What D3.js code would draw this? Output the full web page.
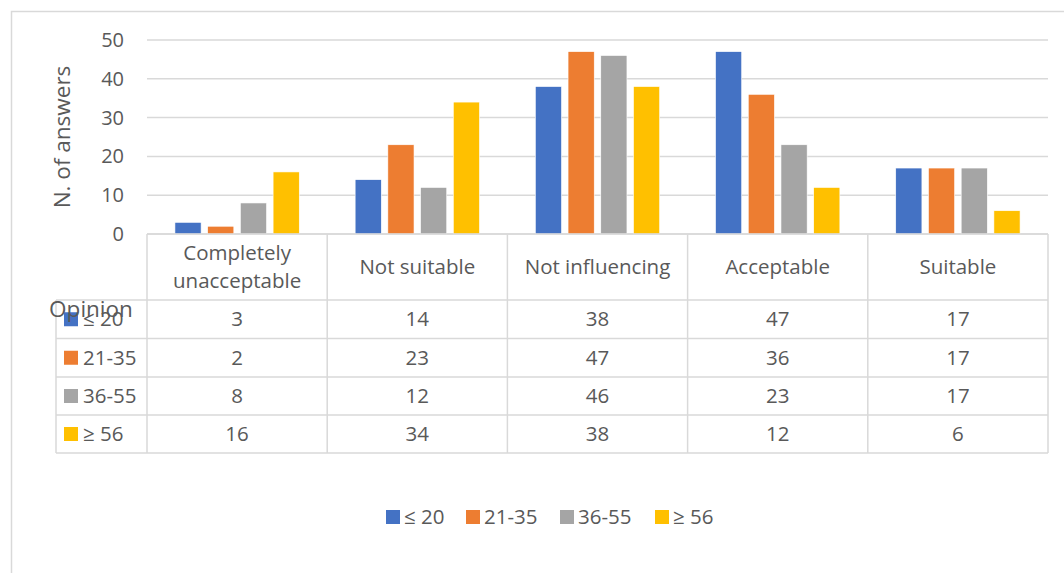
<!DOCTYPE html>
<html>
<head>
<meta charset="utf-8">
<script src="https://cdn.jsdelivr.net/npm/d3@7"></script>
<style>
  html, body { margin: 0; padding: 0; background: #fff; }
  svg { display: block; font-family: "Open Sans", Lato, sans-serif; }
</style>
</head>
<body>
<svg id="chart" width="1064" height="573"></svg>
<script>
// Opinion categories (x axis / table columns)
const categories = ["Completely unacceptable", "Not suitable", "Not influencing", "Acceptable", "Suitable"];
// Age groups (series / table rows)
const seriesNames = ["≤ 20", "21-35", "36-55", "≥ 56"];
const seriesColors = ["#4472C4", "#ED7D31", "#A5A5A5", "#FFC000"];
// Number of answers per age group, one value per category
const valuesLe20 = [3, 14, 38, 47, 17];
const values21to35 = [2, 23, 47, 36, 17];
const values36to55 = [8, 12, 46, 23, 17];
const valuesGe56 = [16, 34, 38, 12, 6];
const yTicks = [0, 10, 20, 30, 40, 50];

const seriesValues = [valuesLe20, values21to35, values36to55, valuesGe56];

const svg = d3.select("#chart");
const textColor = "#595959";
const lineColor = "#D9D9D9";
const fontSize = 20.5;
const titleSize = 22.5;

// chart frame
svg.append("path")
  .attr("d", "M11.5,573 V11.5 H1064")
  .attr("fill", "none").attr("stroke", lineColor).attr("stroke-width", 1.5);

const plotLeft = 147, plotRight = 1048, plotTop = 40, plotBottom = 234;
const tableLeft = 56;
const rowEdges = [234, 300, 338.5, 377, 415, 453];

const x0 = d3.scaleBand().domain(categories).range([plotLeft, plotRight]).padding(0);
const bw = x0.bandwidth();
const x1 = d3.scaleBand().domain(seriesNames)
  .range([bw * 0.155, bw * 0.845]).paddingInner(0.2).paddingOuter(0);
const y = d3.scaleLinear().domain([0, 50]).range([plotBottom, plotTop]);

// gridlines
svg.append("g").selectAll("line").data(yTicks).join("line")
  .attr("x1", plotLeft).attr("x2", plotRight)
  .attr("y1", d => y(d)).attr("y2", d => y(d))
  .attr("stroke", lineColor).attr("stroke-width", 1.5);

// y axis labels
const yAxis = d3.axisLeft(y).tickValues(yTicks).tickSize(0).tickPadding(0);
const yg = svg.append("g").attr("transform", `translate(124,0)`).call(yAxis);
yg.select(".domain").remove();
yg.selectAll("text").attr("fill", textColor).attr("font-size", 20)
  .attr("font-family", "'Open Sans', sans-serif");

// y axis title
svg.append("text")
  .attr("transform", `translate(70,137) rotate(-90)`)
  .attr("text-anchor", "middle")
  .attr("fill", textColor).attr("font-size", titleSize)
  .text("N. of answers");

// bars
const groups = svg.append("g").selectAll("g").data(categories).join("g")
  .attr("transform", d => `translate(${x0(d)},0)`);
groups.selectAll("rect")
  .data((c, ci) => seriesNames.map((s, si) => ({ s, si, v: seriesValues[si][ci] })))
  .join("rect")
  .attr("x", d => x1(d.s))
  .attr("width", x1.bandwidth())
  .attr("y", d => y(d.v))
  .attr("height", d => y(0) - y(d.v))
  .attr("fill", d => seriesColors[d.si])
  .attr("stroke", "#fff").attr("stroke-width", 0.6);

// data table grid
const grid = svg.append("g").attr("stroke", lineColor).attr("stroke-width", 1.5);
// horizontal lines
rowEdges.forEach((ry, i) => {
  grid.append("line")
    .attr("x1", i <= 0 ? plotLeft : tableLeft).attr("x2", plotRight)
    .attr("y1", ry).attr("y2", ry);
});
// vertical lines of the value columns
const colEdges = categories.map(c => x0(c)).concat([plotRight]);
colEdges.forEach(cx => {
  grid.append("line").attr("x1", cx).attr("x2", cx)
    .attr("y1", rowEdges[0]).attr("y2", rowEdges[rowEdges.length - 1]);
});
// left edge of the legend column
grid.append("line").attr("x1", tableLeft).attr("x2", tableLeft)
  .attr("y1", rowEdges[1]).attr("y2", rowEdges[rowEdges.length - 1]);

// category labels in the header row
const header = svg.append("g").attr("fill", textColor).attr("font-size", fontSize).attr("text-anchor", "middle");
categories.forEach(c => {
  const cx = x0(c) + bw / 2;
  const words = c === "Completely unacceptable" ? ["Completely", "unacceptable"] : [c];
  const midY = (rowEdges[0] + rowEdges[1]) / 2;
  words.forEach((w, i) => {
    header.append("text")
      .attr("x", cx)
      .attr("y", midY + (i - (words.length - 1) / 2) * 28)
      .attr("dy", "0.35em")
      .text(w);
  });
});

// table rows: legend key, series name, values
const rows = svg.append("g");
seriesNames.forEach((s, si) => {
  const cy = (rowEdges[si + 1] + rowEdges[si + 2]) / 2;
  rows.append("rect").attr("x", 64).attr("y", cy - 7).attr("width", 14).attr("height", 14)
    .attr("fill", seriesColors[si]);
  rows.append("text").attr("x", 83).attr("y", cy).attr("dy", "0.35em")
    .attr("fill", textColor).attr("font-size", fontSize).text(s);
  categories.forEach((c, ci) => {
    rows.append("text")
      .attr("x", x0(c) + bw / 2).attr("y", cy).attr("dy", "0.35em")
      .attr("text-anchor", "middle")
      .attr("fill", textColor).attr("font-size", fontSize)
      .text(seriesValues[si][ci]);
  });
});

// x axis title, drawn over the table's first row
svg.append("text")
  .attr("x", 91).attr("y", 309).attr("dy", "0.35em")
  .attr("text-anchor", "middle")
  .attr("fill", textColor).attr("font-size", titleSize)
  .text("Opinion");

// bottom legend
const legendX = [386, 466, 560, 655];
const legend = svg.append("g");
seriesNames.forEach((s, si) => {
  legend.append("rect").attr("x", legendX[si]).attr("y", 510).attr("width", 14).attr("height", 14)
    .attr("fill", seriesColors[si]);
  legend.append("text").attr("x", legendX[si] + 18).attr("y", 517).attr("dy", "0.35em")
    .attr("fill", textColor).attr("font-size", fontSize).text(s);
});
</script>
</body>
</html>
